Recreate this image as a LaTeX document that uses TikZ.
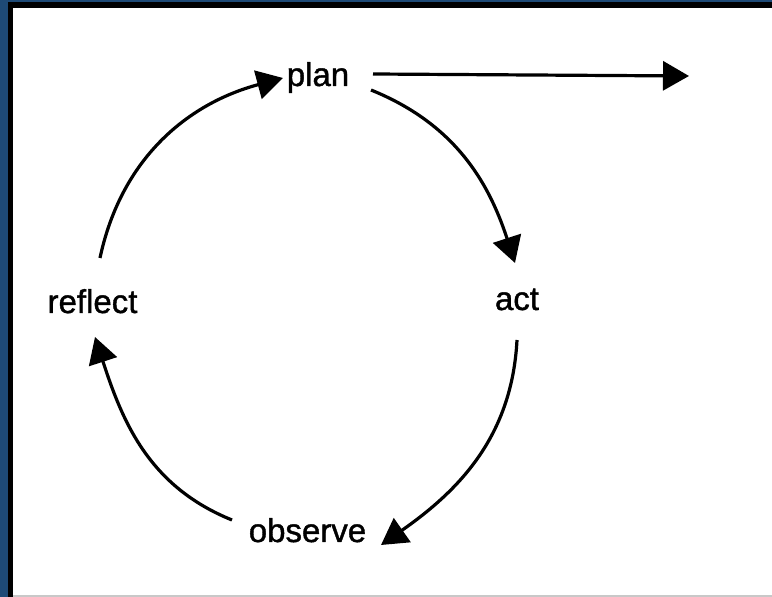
\documentclass[tikz,border=0pt]{standalone}
\usepackage{fontspec}
\setmainfont{Liberation Sans}
\newfontfamily\scanfont{Liberation Sans}[FakeBold=1.2]
\usetikzlibrary{arrows.meta}
\definecolor{frameblue}{RGB}{30,74,118}
\definecolor{bottomgray}{RGB}{200,200,200}
\begin{document}
\begin{tikzpicture}[x=1pt,y=1pt,
  lbl/.style={anchor=base,inner sep=0pt,font=\scanfont\fontsize{33}{36}\selectfont},
  cyc/.style={line width=3.2pt,-{Triangle[length=26pt,width=29pt]}}]
\useasboundingbox (0,0) rectangle (772,597);
% frame
\fill[frameblue] (0,0) rectangle (772,597);
\fill[black] (8,0) rectangle (772,595);
\fill[white] (13,1) rectangle (772,589);
\fill[bottomgray] (13,0) rectangle (772,1.5);
% labels
\node[lbl] (plan) at (318,511) {plan};
\node[lbl] (act) at (517,287) {act};
\node[lbl] (reflect) at (92.5,284) {reflect};
\node[lbl] (observe) at (307.5,55) {observe};
% connector endpoints
\coordinate (r1) at (100,339);
\coordinate (p1) at (283,519);
\coordinate (p2) at (371,507);
\coordinate (a1) at (515,334);
\coordinate (a2) at (517,257);
\coordinate (o1) at (381,52);
\coordinate (o2) at (232,77);
\coordinate (r2) at (95,260);
\coordinate (p3) at (373,523);
\coordinate (out) at (689,521);
% connectors
\draw[cyc] (r1) to[out=78,in=195] (p1);
\draw[cyc] (p2) to[out=-22,in=108] (a1);
\draw[cyc] (a2) to[out=-93,in=35] (o1);
\draw[cyc] (o2) to[out=158,in=-72] (r2);
\draw[cyc] (p3) -- (out);
\end{tikzpicture}
\end{document}
